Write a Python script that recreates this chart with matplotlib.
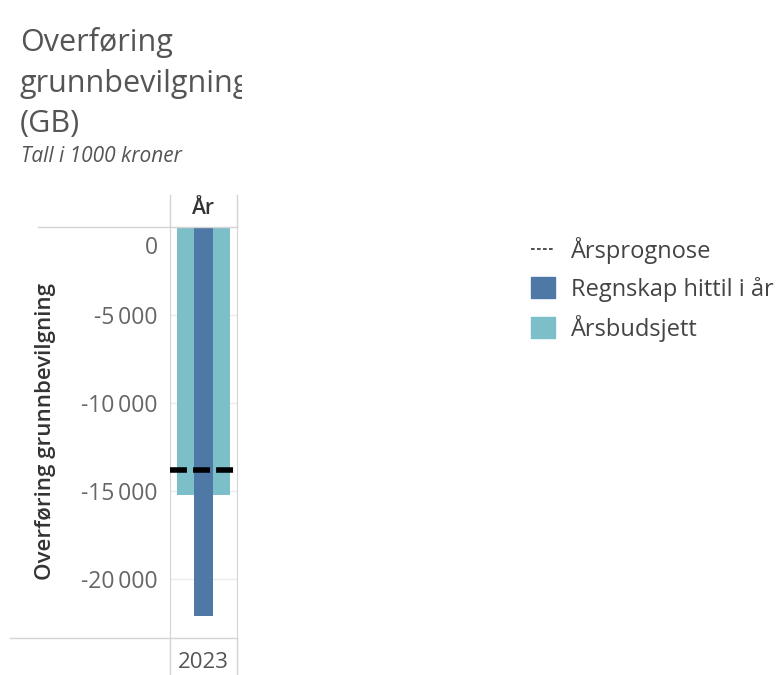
import matplotlib
matplotlib.use("Agg")
import matplotlib.pyplot as plt
from matplotlib.lines import Line2D
from matplotlib.patches import Patch
import matplotlib.transforms as mtransforms

# data
years = ["2023"]
regnskap = [-22100]      # Regnskap hittil i år
budsjett = [-15200]      # Årsbudsjett
prognose = -13800        # Årsprognose
yticks = [0, -5000, -10000, -15000, -20000]

dark = "#4e79a7"
light = "#7dbfc8"
grid_c = "#d4d4d4"

plt.rcParams["font.family"] = ["Open Sans", "DejaVu Sans"]

W, H = 780, 675
fig = plt.figure(figsize=(W / 100, H / 100), dpi=100)


def px(x, y):
    return x / W, 1 - y / H


# title block, clipped on the right like the original
tax = fig.add_axes([0, 1 - 175 / H, 242 / W, 175 / H])
tax.set_axis_off()
tax.set_xlim(0, 242)
tax.set_ylim(175, 0)
for yy, s in [(42, "Overføring"), (84, "grunnbevilgning"), (124, "(GB)")]:
    tax.text(20, yy, s, fontsize=22, color="#555555", va="center", clip_on=True)
tax.text(21, 156, "Tall i 1000 kroner", fontsize=15, style="italic", color="#555555",
         va="center", clip_on=True)

# main panel
left, right, top, bottom = 170, 237, 227, 638
ax = fig.add_axes([left / W, 1 - bottom / H, (right - left) / W, (bottom - top) / H])
ax.bar(years, budsjett, width=0.79, color=light, zorder=2)
ax.bar(years, regnskap, width=0.28, color=dark, zorder=3)
ax.axhline(prognose, color="black", lw=4, dashes=(3.05, 1.1), zorder=4)

ax.set_xlim(-0.5, 0.5)
ax.set_ylim(-23350, 0)
ax.set_yticks(yticks)
ax.set_yticklabels([f"{v:,}".replace(",", "\u2009") if v else "0" for v in yticks])
ax.tick_params(axis="y", length=0, pad=9, labelsize=16.5, labelcolor="#666666")
ax.tick_params(axis="x", length=0, pad=10, labelsize=16, labelcolor="#555555")
ax.yaxis.grid(True, color="#ececec", lw=1, zorder=0)
for s in ["top", "bottom"]:
    ax.spines[s].set_visible(False)
for s in ["left", "right"]:
    ax.spines[s].set_color(grid_c)
# the 0 label sits a little below its gridline
lab0 = ax.get_yticklabels()[0]
lab0.set_transform(lab0.get_transform() + mtransforms.ScaledTranslation(0, -13 / 72, fig.dpi_scale_trans))

ax.set_ylabel("Overføring grunnbevilgning", fontsize=16, fontweight="semibold",
              color="#333333")
ax.yaxis.set_label_coords((56 - left) / (right - left), (bottom - 432) / (bottom - top))

# header / footer frame lines
fig.add_artist(Line2D([px(38, 0)[0], px(right, 0)[0]], [px(0, top)[1]] * 2, color=grid_c, lw=1))
fig.add_artist(Line2D([px(10, 0)[0], px(right, 0)[0]], [px(0, bottom)[1]] * 2, color=grid_c, lw=1))
for xx in [left, right]:
    fig.add_artist(Line2D([px(xx, 0)[0]] * 2, [px(0, 195)[1], px(0, top)[1]], color=grid_c, lw=1))
    fig.add_artist(Line2D([px(xx, 0)[0]] * 2, [px(0, bottom)[1], 0], color=grid_c, lw=1))
fig.text(*px(203, 208), "År", fontsize=15, fontweight="semibold", color="#333333",
         ha="center", va="center")

# legend
handles = [
    Line2D([0], [0], color="#333333", lw=1.2, dashes=(2.2, 1.4)),
    Patch(color=dark),
    Patch(color=light),
]
labels = ["Årsprognose", "Regnskap hittil i år", "Årsbudsjett"]
leg = fig.legend(handles, labels, loc="upper left", bbox_to_anchor=px(531, 237),
                 frameon=False, fontsize=17, handlelength=1.0, handleheight=1.0,
                 handletextpad=0.7, labelspacing=0.55, borderaxespad=0, borderpad=0)
for t in leg.get_texts():
    t.set_color("#444444")

fig.savefig("out.png", dpi=100)
